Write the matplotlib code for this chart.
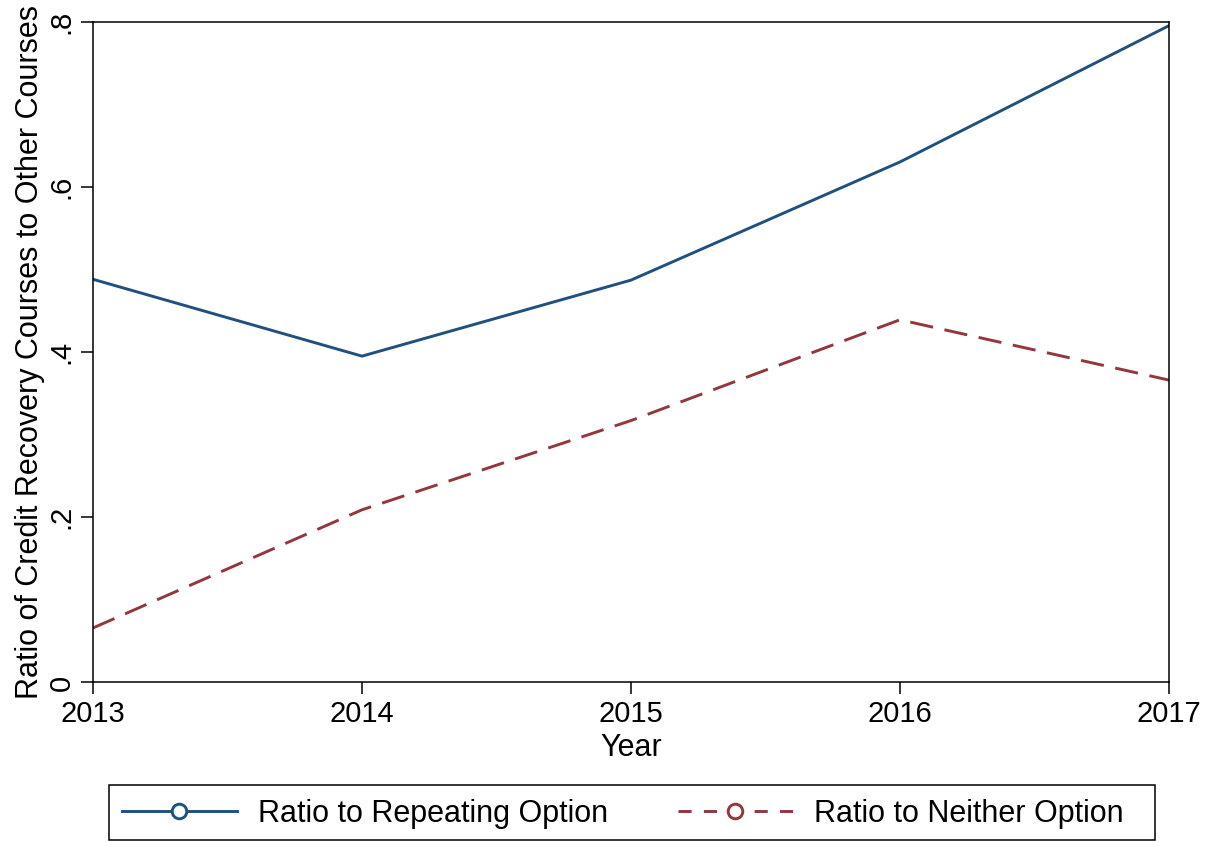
import matplotlib
matplotlib.use("Agg")
from matplotlib import pyplot as plt
from matplotlib.lines import Line2D
from matplotlib.patches import Rectangle

plt.rcParams['font.family'] = ['Liberation Sans', 'DejaVu Sans']

years = [2013, 2014, 2015, 2016, 2017]
ratio_repeating = [0.488, 0.395, 0.487, 0.630, 0.795]
ratio_neither = [0.066, 0.209, 0.317, 0.439, 0.366]

y_ticks = [0, 0.2, 0.4, 0.6, 0.8]
y_labels = ['0', '.2', '.4', '.6', '.8']

blue = '#1f5080'
red = '#93363d'

fig = plt.figure(figsize=(12.16, 8.41), dpi=100)
ax = fig.add_axes([0.0765, 0.1885, 0.8848, 0.7859])

ax.plot(years, ratio_repeating, color=blue, lw=2.1, solid_joinstyle='miter')
ax.plot(years, ratio_neither, color=red, lw=2.1, dashes=(8, 4))

ax.set_xlim(2013, 2017)
ax.set_ylim(0, 0.8)
ax.set_xticks(years)
ax.set_xticklabels([str(y) for y in years], fontsize=21)
ax.set_yticks(y_ticks)
ax.set_yticklabels(y_labels, fontsize=21, rotation=90, va='center')
ax.tick_params(direction='out', length=8.5, width=1.1, pad=4)
for s in ax.spines.values():
    s.set_linewidth(1.1)

ax.set_xlabel('Year', fontsize=22, labelpad=4)
ax.set_ylabel('Ratio of Credit Recovery Courses to Other Courses', fontsize=22, labelpad=2)

# legend box drawn separately so the entries keep their natural spacing
fig.patches.append(Rectangle((0.0896, 0.0012), 0.860, 0.0654, transform=fig.transFigure,
                             fill=False, edgecolor='black', lw=1.1))

handles = [
    Line2D([], [], color=blue, lw=2.1, marker='o', markersize=10.5, markerfacecolor='white',
           markeredgecolor=blue, markeredgewidth=2.1),
    Line2D([], [], color=red, lw=2.1, dashes=(4.5, 4.2), marker='o', markersize=10.5,
           markerfacecolor='white', markeredgecolor=red, markeredgewidth=2.1),
]
fig.legend(handles, ['Ratio to Repeating Option', 'Ratio to Neither Option'],
           loc='center left', bbox_to_anchor=(0.1003, 0.032), ncol=2, fontsize=22,
           frameon=False, handlelength=3.75, handletextpad=0.69, borderpad=0,
           borderaxespad=0, columnspacing=2.3)

fig.savefig('out.png', dpi=100)
